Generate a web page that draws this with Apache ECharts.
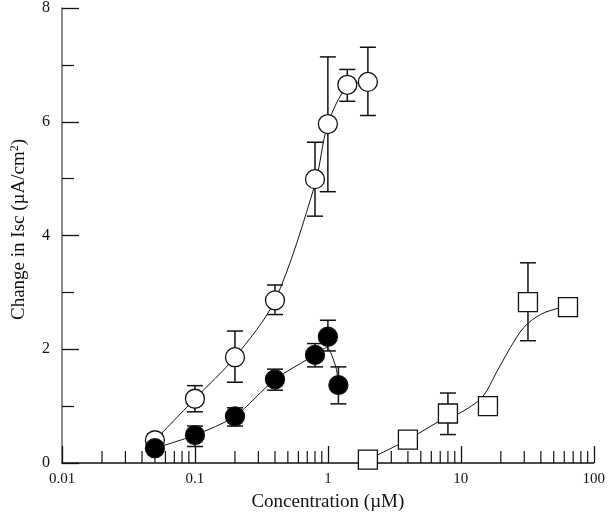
<!DOCTYPE html>
<html>
<head>
<meta charset="utf-8">
<script src="https://cdn.jsdelivr.net/npm/echarts@6/dist/echarts.min.js"></script>
<style>
  html, body { margin: 0; padding: 0; background: #fff; }
  #chart { width: 608px; height: 518px; }
</style>
</head>
<body>
<div id="chart"></div>
<script>
// open circles
const openX = [0.05, 0.1, 0.2, 0.4, 0.8, 1.0, 1.4, 2.0]
const openY = [0.40, 1.13, 1.86, 2.86, 4.99, 5.96, 6.65, 6.70]
const openLow = [0.30, 0.90, 1.42, 2.61, 4.34, 4.77, 6.36, 6.11]
const openHigh = [0.51, 1.36, 2.32, 3.13, 5.64, 7.14, 6.92, 7.31]

// filled circles
const fillX = [0.05, 0.1, 0.2, 0.4, 0.8, 1.0, 1.2]
const fillY = [0.26, 0.49, 0.82, 1.47, 1.90, 2.22, 1.37]
const fillLow = [null, 0.29, 0.65, 1.28, 1.69, 1.97, 1.04]
const fillHigh = [null, 0.65, 0.97, 1.65, 2.10, 2.51, 1.69]

// open squares
const sqX = [2, 4, 8, 16, 32, 64]
const sqY = [0.06, 0.41, 0.87, 1.00, 2.83, 2.74]
const sqLow = [null, null, 0.50, null, 2.15, null]
const sqHigh = [null, null, 1.23, null, 3.52, null]

// fitted curves
const openFitX = [0.05, 0.1, 0.2, 0.4, 0.8, 1.0, 1.4, 2.0]
const openFitY = [0.40, 1.13, 1.86, 2.86, 4.90, 5.96, 6.62, 6.70]
const fillFitX = [0.05, 0.1, 0.2, 0.4, 0.8, 0.98, 1.15, 1.2]
const fillFitY = [0.26, 0.49, 0.82, 1.47, 1.90, 2.03, 1.68, 1.37]
const sqFitX = [2, 4, 8, 9.7, 14.5, 18.8, 23.6, 29.7, 39.6, 56, 64]
const sqFitY = [0.06, 0.41, 0.82, 0.87, 1.16, 1.62, 2.03, 2.38, 2.61, 2.73, 2.74]

// axis ticks
const xTickLabels = ['0.01', '0.1', '1', '10', '100']
const xMinorTicks = [0.02, 0.03, 0.04, 0.05, 0.06, 0.07, 0.08, 0.09,
  0.2, 0.3, 0.4, 0.5, 0.6, 0.7, 0.8, 0.9,
  2, 3, 4, 5, 6, 7, 8, 9,
  20, 30, 40, 50, 60, 70, 80, 90]

const FONT = '"Liberation Serif", "DejaVu Serif", serif'
const INK = '#111'

const zip = (a, b) => a.map((v, i) => [v, b[i]])
const errData = (xs, lo, hi) => xs.map((v, i) => [v, lo[i], hi[i]]).filter(d => d[1] != null)

// error bar: vertical line with caps
function renderErr(params, api) {
  const top = api.coord([api.value(0), api.value(2)])
  const bot = api.coord([api.value(0), api.value(1)])
  const w = 8
  const st = { stroke: INK, lineWidth: 1.5 }
  return {
    type: 'group',
    children: [
      { type: 'line', shape: { x1: top[0], y1: top[1], x2: bot[0], y2: bot[1] }, style: st },
      { type: 'line', shape: { x1: top[0] - w, y1: top[1], x2: top[0] + w, y2: top[1] }, style: st },
      { type: 'line', shape: { x1: bot[0] - w, y1: bot[1], x2: bot[0] + w, y2: bot[1] }, style: st },
    ]
  }
}

function renderMinor(params, api) {
  const p = api.coord([api.value(0), 0])
  return {
    type: 'line',
    shape: { x1: p[0], y1: p[1], x2: p[0], y2: p[1] - 12 },
    style: { stroke: INK, lineWidth: 1.2 }
  }
}

const chart = echarts.init(document.getElementById('chart'))

const fitStyle = { color: INK, width: 1 }
const markerBase = { borderColor: INK, borderWidth: 1.3, opacity: 1 }

chart.setOption({
  animation: false,
  backgroundColor: '#fff',
  grid: { left: 62, right: 11, top: 5, bottom: 55 },
  xAxis: {
    type: 'log',
    logBase: 10,
    min: 0.01,
    max: 100,
    name: 'Concentration (µM)',
    nameLocation: 'middle',
    nameGap: 30,
    nameTextStyle: { fontFamily: FONT, fontSize: 19, color: INK },
    axisLine: { lineStyle: { color: INK, width: 1.5 } },
    axisTick: { inside: true, length: 17, lineStyle: { color: INK, width: 1.3 } },
    axisLabel: {
      fontFamily: FONT, fontSize: 15, color: INK, margin: 9,
      formatter: v => xTickLabels[Math.round(Math.log10(v)) + 2]
    },
    splitLine: { show: false }
  },
  yAxis: {
    type: 'value',
    min: 0,
    max: 8,
    interval: 2,
    name: 'Change in Isc (µA/cm{sup|2})',
    nameLocation: 'middle',
    nameGap: 33,
    nameTextStyle: {
      fontFamily: FONT, fontSize: 19, color: INK, padding: [0, 0, 0, 12],
      rich: { sup: { fontFamily: FONT, fontSize: 12, color: INK, verticalAlign: 'top', padding: [0, 0, 8, 0] } }
    },
    axisLine: { show: true, lineStyle: { color: '#666', width: 1.5 } },
    axisTick: { inside: true, length: 17, lineStyle: { color: INK, width: 1.3 } },
    minorTick: { show: true, splitNumber: 2, length: 12, lineStyle: { color: INK, width: 1.2 } },
    axisLabel: { fontFamily: FONT, fontSize: 16, color: INK, margin: 12 },
    splitLine: { show: false },
    minorSplitLine: { show: false }
  },
  series: [
    { type: 'custom', renderItem: renderMinor, data: xMinorTicks.map(v => [v]), silent: true, z: 1 },
    { type: 'custom', renderItem: renderErr, data: errData(openX, openLow, openHigh), encode: { x: 0, y: [1, 2] }, z: 2 },
    { type: 'custom', renderItem: renderErr, data: errData(fillX, fillLow, fillHigh), encode: { x: 0, y: [1, 2] }, z: 2 },
    { type: 'custom', renderItem: renderErr, data: errData(sqX, sqLow, sqHigh), encode: { x: 0, y: [1, 2] }, z: 2 },
    { type: 'line', data: zip(openFitX, openFitY), showSymbol: false, smooth: 0.3, lineStyle: fitStyle, z: 3 },
    { type: 'line', data: zip(fillFitX, fillFitY), showSymbol: false, smooth: 0.25, lineStyle: fitStyle, z: 3 },
    { type: 'line', data: zip(sqFitX, sqFitY), showSymbol: false, smooth: 0.3, lineStyle: fitStyle, z: 3 },
    { type: 'scatter', data: zip(openX, openY), symbol: 'circle', symbolSize: 19,
      itemStyle: Object.assign({ color: '#fff' }, markerBase), z: 4 },
    { type: 'scatter', data: zip(fillX, fillY), symbol: 'circle', symbolSize: 19,
      itemStyle: Object.assign({ color: '#000' }, markerBase), z: 4 },
    { type: 'scatter', data: zip(sqX, sqY), symbol: 'rect', symbolSize: 19,
      itemStyle: Object.assign({ color: '#fff' }, markerBase), z: 4 }
  ]
})
</script>
</body>
</html>
